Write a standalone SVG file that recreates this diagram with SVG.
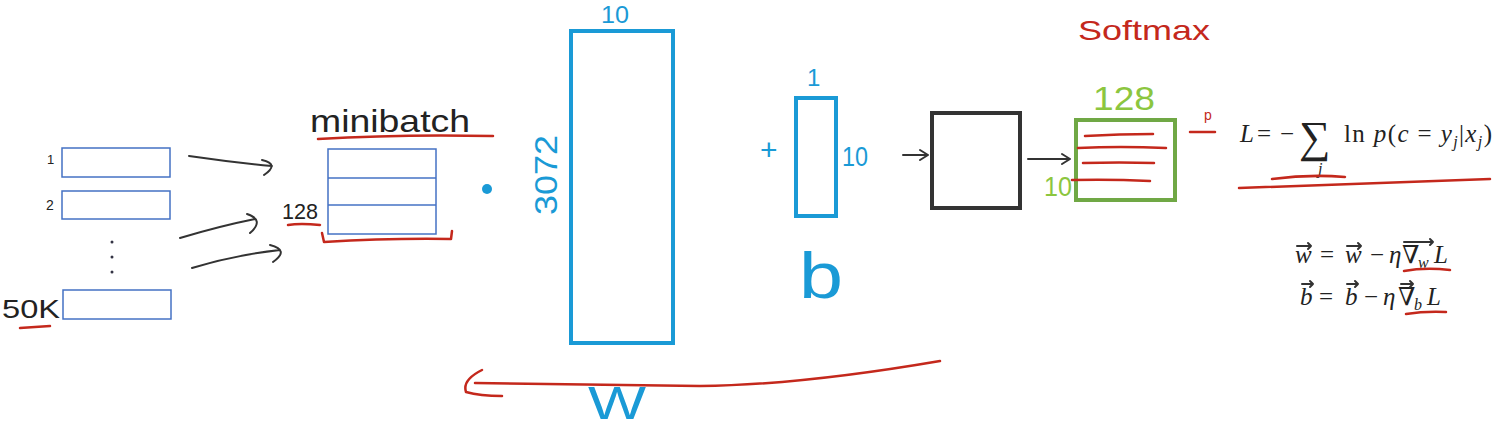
<svg xmlns="http://www.w3.org/2000/svg" width="1495" height="431" viewBox="0 0 1495 431">
<style>
.row{fill:#fff;stroke:#4472c4;stroke-width:1.5}
.blue{fill:none;stroke:#1a9ad6;stroke-width:4}
.red{fill:none;stroke:#c4281c;stroke-width:2.5;stroke-linecap:round;stroke-linejoin:round}
.ink{fill:none;stroke:#333;stroke-width:2;stroke-linecap:round;stroke-linejoin:round}
.hand{font-family:"Liberation Sans",sans-serif}
.bt{fill:#1a9ad6}
.gt{fill:#8cc63f}
.rt{fill:#c4281c}
.kt{fill:#222}
.math{font-family:"Liberation Serif","DejaVu Serif",serif;font-size:25px;fill:#222}
.it{font-style:italic}
.sub{font-size:16px}
.big{font-size:44px}
</style>
<rect width="1495" height="431" fill="#fff"/>

<g id="dataset">
  <rect class="row" x="62" y="148" width="108" height="29"/>
  <rect class="row" x="62" y="191" width="108" height="28"/>
  <rect class="row" x="63" y="290" width="108" height="29"/>
  <text class="hand kt" x="47" y="164" font-size="13">1</text>
  <text class="hand kt" x="46" y="210" font-size="14">2</text>
  <circle cx="112" cy="242" r="1.5" fill="#334"/>
  <circle cx="112" cy="257" r="1.5" fill="#334"/>
  <circle cx="112" cy="272" r="1.5" fill="#334"/>
  <text class="hand kt" x="2" y="318" font-size="26" textLength="58" lengthAdjust="spacingAndGlyphs">50K</text>
  <path class="red" d="M20 328 L50 326"/>
</g>

<g id="minibatch">
  <rect class="row" x="328" y="149" width="108" height="85"/>
  <line class="row" x1="328" y1="178" x2="436" y2="178"/>
  <line class="row" x1="328" y1="205" x2="436" y2="205"/>
  <text class="hand kt" x="310" y="132" font-size="32" textLength="160" lengthAdjust="spacingAndGlyphs">minibatch</text>
  <path class="red" d="M318 139 Q400 134 493 136"/>
  <text class="hand kt" x="282" y="219" font-size="22" textLength="36" lengthAdjust="spacingAndGlyphs">128</text>
  <path class="red" d="M288 225 Q300 223 320 225"/>
  <path class="red" d="M322 233 L324 242 Q390 238 451 239 L452 231"/>
</g>

<circle id="dot" cx="487" cy="189" r="5" fill="#1a9ad6"/>

<g id="W">
  <rect class="blue" x="571" y="31" width="102" height="312"/>
  <text class="hand bt" x="601" y="23" font-size="24" textLength="28" lengthAdjust="spacingAndGlyphs">10</text>
  <text class="hand bt" font-size="32" transform="translate(557 215) rotate(-90)" textLength="80" lengthAdjust="spacingAndGlyphs">3072</text>
  <text class="hand bt" x="588" y="419" font-size="46" textLength="58" lengthAdjust="spacingAndGlyphs">W</text>
</g>

<g id="bias">
  <rect class="blue" x="796" y="98" width="40" height="118"/>
  <text class="hand bt" x="807" y="86" font-size="24">1</text>
  <text class="hand bt" x="760" y="160" font-size="30">+</text>
  <text class="hand bt" x="842" y="166" font-size="28" textLength="26" lengthAdjust="spacingAndGlyphs">10</text>
  <text class="hand bt" x="799" y="298" font-size="64" textLength="44" lengthAdjust="spacingAndGlyphs">b</text>
</g>

<g id="activation">
  <rect x="932" y="113" width="88" height="95" fill="#fff" stroke="#333" stroke-width="4"/>
</g>

<g id="softmax">
  <rect x="1076" y="120" width="99" height="80" fill="#fff" stroke="#70a845" stroke-width="4"/>
  <text class="hand gt" x="1093" y="110" font-size="34" textLength="62" lengthAdjust="spacingAndGlyphs">128</text>
  <text class="hand gt" x="1044" y="196" font-size="28" textLength="28" lengthAdjust="spacingAndGlyphs">10</text>
  <path class="red" d="M1085 136 Q1120 134 1153 134"/>
  <path class="red" d="M1078 148 Q1120 146 1166 148"/>
  <path class="red" d="M1083 163 Q1120 162 1154 163"/>
  <path class="red" d="M1072 180 Q1110 179 1150 181"/>
  <text class="hand rt" x="1078" y="40" font-size="28" textLength="132" lengthAdjust="spacingAndGlyphs">Softmax</text>
  <path class="red" d="M1190 132 L1215 132"/>
  <text class="hand rt" x="1204" y="120" font-size="14">p</text>
</g>

<g id="loss">
  <text class="math it" x="1240" y="142">L</text>
  <text class="math" x="1257" y="142">=</text>
  <text class="math" x="1280" y="142">−</text>
  <text class="math big" x="1299" y="152">∑</text>
  <text class="math it sub" x="1318" y="174">j</text>
  <text class="math" x="1344" y="142" textLength="148" lengthAdjust="spacing">ln <tspan class="it">p</tspan>(<tspan class="it">c</tspan> = <tspan class="it">y</tspan><tspan class="it sub" dy="5">j</tspan><tspan dy="-5">|</tspan><tspan class="it">x</tspan><tspan class="it sub" dy="5">j</tspan><tspan dy="-5">)</tspan></text>
  <path class="red" d="M1272 179 Q1310 174 1345 177"/>
  <path class="red" d="M1239 188 Q1360 184 1490 179"/>
</g>

<g id="update">
  <text class="math it" x="1295" y="263">w</text>
  <text class="math" x="1320" y="263">=</text>
  <text class="math it" x="1345" y="263">w</text>
  <text class="math" x="1370" y="263">−</text>
  <text class="math it" x="1389" y="263">η</text>
  <text class="math" x="1402" y="263">∇</text>
  <text class="math it sub" x="1418" y="268">w</text>
  <text class="math it" x="1434" y="263">L</text>
  <g class="ink" stroke-width="1.3">
    <path d="M1297 246 L1311 246 M1308 243 L1311 246 L1308 249"/>
    <path d="M1347 246 L1361 246 M1358 243 L1361 246 L1358 249"/>
    <path d="M1404 242 L1433 242 M1430 239 L1433 242 L1430 245"/>
  </g>
  <text class="math it" x="1300" y="305">b</text>
  <text class="math" x="1319" y="305">=</text>
  <text class="math it" x="1345" y="305">b</text>
  <text class="math" x="1364" y="305">−</text>
  <text class="math it" x="1383" y="305">η</text>
  <text class="math" x="1398" y="305">∇</text>
  <text class="math it sub" x="1414" y="310">b</text>
  <text class="math it" x="1427" y="305">L</text>
  <g class="ink" stroke-width="1.3">
    <path d="M1302 284 L1313 284 M1310 281 L1313 284 L1310 287"/>
    <path d="M1347 284 L1358 284 M1355 281 L1358 284 L1355 287"/>
    <path d="M1401 284 L1413 284 M1410 281 L1413 284 L1410 287"/>
  </g>
  <path class="red" d="M1404 271 Q1425 267 1450 270"/>
  <path class="red" d="M1406 314 Q1425 311 1446 312"/>
</g>

<g id="connectors">
  <path class="ink" d="M189 156 Q230 162 272 166 M262 160 Q280 164 264 175"/>
  <path class="ink" d="M180 238 Q220 226 255 219 M247 214 Q265 220 250 233"/>
  <path class="ink" d="M192 268 Q235 255 280 250 M270 245 Q290 250 273 262"/>
  <path class="ink" stroke-width="1.5" d="M903 155 L928 155 M920 150 L928 155 L920 160"/>
  <path class="ink" stroke-width="1.5" d="M1028 159 L1070 159 M1062 154 L1070 159 L1062 164"/>
  <path class="red" stroke-width="2" d="M940 361 Q800 385 700 386 L475 383 M482 370 Q462 380 466 392 Q480 396 502 396"/>
</g>
</svg>
